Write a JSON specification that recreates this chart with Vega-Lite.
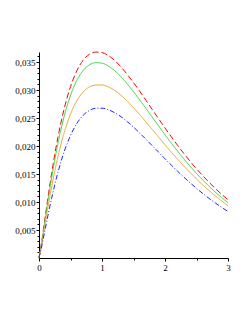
{
  "$schema": "https://vega.github.io/schema/vega-lite/v6.json",
  "width": 189,
  "height": 206,
  "autosize": "none",
  "padding": {"left": 39, "top": 52, "right": 21, "bottom": 65},
  "background": "white",
  "config": {"view": {"stroke": null}},
  "data": {"values": [
    {"x":0,"y":0,"s":"s1"},{"x":0.05,"y":0.00347,"s":"s1"},{"x":0.1,"y":0.00748,"s":"s1"},{"x":0.2,"y":0.01508,"s":"s1"},{"x":0.3,"y":0.02153,"s":"s1"},{"x":0.4,"y":0.02668,"s":"s1"},{"x":0.5,"y":0.03061,"s":"s1"},{"x":0.6,"y":0.03344,"s":"s1"},{"x":0.7,"y":0.03532,"s":"s1"},{"x":0.8,"y":0.03639,"s":"s1"},{"x":0.9,"y":0.03679,"s":"s1"},{"x":1.0,"y":0.03670,"s":"s1"},{"x":1.1,"y":0.03617,"s":"s1"},{"x":1.2,"y":0.03530,"s":"s1"},{"x":1.3,"y":0.03415,"s":"s1"},{"x":1.4,"y":0.03281,"s":"s1"},{"x":1.5,"y":0.03134,"s":"s1"},{"x":1.6,"y":0.02976,"s":"s1"},{"x":1.7,"y":0.02814,"s":"s1"},{"x":1.8,"y":0.02649,"s":"s1"},{"x":1.9,"y":0.02485,"s":"s1"},{"x":2.0,"y":0.02323,"s":"s1"},{"x":2.1,"y":0.02165,"s":"s1"},{"x":2.2,"y":0.02013,"s":"s1"},{"x":2.3,"y":0.01865,"s":"s1"},{"x":2.4,"y":0.01726,"s":"s1"},{"x":2.5,"y":0.01593,"s":"s1"},{"x":2.6,"y":0.01469,"s":"s1"},{"x":2.7,"y":0.01351,"s":"s1"},{"x":2.8,"y":0.01240,"s":"s1"},{"x":2.9,"y":0.01137,"s":"s1"},{"x":3.0,"y":0.01041,"s":"s1"},
    {"x":0,"y":0,"s":"s2"},{"x":0.05,"y":0.00329,"s":"s2"},{"x":0.1,"y":0.00709,"s":"s2"},{"x":0.2,"y":0.01430,"s":"s2"},{"x":0.3,"y":0.02042,"s":"s2"},{"x":0.4,"y":0.02531,"s":"s2"},{"x":0.5,"y":0.02903,"s":"s2"},{"x":0.6,"y":0.03172,"s":"s2"},{"x":0.7,"y":0.03349,"s":"s2"},{"x":0.8,"y":0.03451,"s":"s2"},{"x":0.9,"y":0.03489,"s":"s2"},{"x":1.0,"y":0.03480,"s":"s2"},{"x":1.1,"y":0.03430,"s":"s2"},{"x":1.2,"y":0.03348,"s":"s2"},{"x":1.3,"y":0.03239,"s":"s2"},{"x":1.4,"y":0.03112,"s":"s2"},{"x":1.5,"y":0.02972,"s":"s2"},{"x":1.6,"y":0.02822,"s":"s2"},{"x":1.7,"y":0.02669,"s":"s2"},{"x":1.8,"y":0.02512,"s":"s2"},{"x":1.9,"y":0.02357,"s":"s2"},{"x":2.0,"y":0.02203,"s":"s2"},{"x":2.1,"y":0.02053,"s":"s2"},{"x":2.2,"y":0.01908,"s":"s2"},{"x":2.3,"y":0.01769,"s":"s2"},{"x":2.4,"y":0.01637,"s":"s2"},{"x":2.5,"y":0.01511,"s":"s2"},{"x":2.6,"y":0.01393,"s":"s2"},{"x":2.7,"y":0.01281,"s":"s2"},{"x":2.8,"y":0.01176,"s":"s2"},{"x":2.9,"y":0.01078,"s":"s2"},{"x":3.0,"y":0.00987,"s":"s2"},
    {"x":0,"y":0,"s":"s3"},{"x":0.05,"y":0.00292,"s":"s3"},{"x":0.1,"y":0.00628,"s":"s3"},{"x":0.2,"y":0.01266,"s":"s3"},{"x":0.3,"y":0.01808,"s":"s3"},{"x":0.4,"y":0.02241,"s":"s3"},{"x":0.5,"y":0.02571,"s":"s3"},{"x":0.6,"y":0.02808,"s":"s3"},{"x":0.7,"y":0.02965,"s":"s3"},{"x":0.8,"y":0.03056,"s":"s3"},{"x":0.9,"y":0.03089,"s":"s3"},{"x":1.0,"y":0.03092,"s":"s3"},{"x":1.1,"y":0.03058,"s":"s3"},{"x":1.2,"y":0.02995,"s":"s3"},{"x":1.3,"y":0.02908,"s":"s3"},{"x":1.4,"y":0.02803,"s":"s3"},{"x":1.5,"y":0.02686,"s":"s3"},{"x":1.6,"y":0.02560,"s":"s3"},{"x":1.7,"y":0.02428,"s":"s3"},{"x":1.8,"y":0.02294,"s":"s3"},{"x":1.9,"y":0.02158,"s":"s3"},{"x":2.0,"y":0.02024,"s":"s3"},{"x":2.1,"y":0.01893,"s":"s3"},{"x":2.2,"y":0.01765,"s":"s3"},{"x":2.3,"y":0.01642,"s":"s3"},{"x":2.4,"y":0.01523,"s":"s3"},{"x":2.5,"y":0.01412,"s":"s3"},{"x":2.6,"y":0.01304,"s":"s3"},{"x":2.7,"y":0.01203,"s":"s3"},{"x":2.8,"y":0.01108,"s":"s3"},{"x":2.9,"y":0.01020,"s":"s3"},{"x":3.0,"y":0.00936,"s":"s3"},
    {"x":0,"y":0,"s":"s4"},{"x":0.05,"y":0.00244,"s":"s4"},{"x":0.1,"y":0.00526,"s":"s4"},{"x":0.2,"y":0.01066,"s":"s4"},{"x":0.3,"y":0.01528,"s":"s4"},{"x":0.4,"y":0.01901,"s":"s4"},{"x":0.5,"y":0.02190,"s":"s4"},{"x":0.6,"y":0.02403,"s":"s4"},{"x":0.7,"y":0.02548,"s":"s4"},{"x":0.8,"y":0.02636,"s":"s4"},{"x":0.9,"y":0.02675,"s":"s4"},{"x":1.0,"y":0.02676,"s":"s4"},{"x":1.1,"y":0.02649,"s":"s4"},{"x":1.2,"y":0.02596,"s":"s4"},{"x":1.3,"y":0.02525,"s":"s4"},{"x":1.4,"y":0.02437,"s":"s4"},{"x":1.5,"y":0.02338,"s":"s4"},{"x":1.6,"y":0.02230,"s":"s4"},{"x":1.7,"y":0.02118,"s":"s4"},{"x":1.8,"y":0.02004,"s":"s4"},{"x":1.9,"y":0.01888,"s":"s4"},{"x":2.0,"y":0.01773,"s":"s4"},{"x":2.1,"y":0.01660,"s":"s4"},{"x":2.2,"y":0.01550,"s":"s4"},{"x":2.3,"y":0.01444,"s":"s4"},{"x":2.4,"y":0.01342,"s":"s4"},{"x":2.5,"y":0.01244,"s":"s4"},{"x":2.6,"y":0.01152,"s":"s4"},{"x":2.7,"y":0.01064,"s":"s4"},{"x":2.8,"y":0.00982,"s":"s4"},{"x":2.9,"y":0.00904,"s":"s4"},{"x":3.0,"y":0.00832,"s":"s4"}
  ]},
  "mark": {"type": "line", "interpolate": "monotone", "strokeWidth": 1, "clip": false},
  "encoding": {
    "x": {
      "field": "x", "type": "quantitative",
      "scale": {"domain": [0, 3], "nice": false},
      "axis": {
        "title": null, "grid": false,
        "values": [0, 0.5, 1, 1.5, 2, 2.5, 3],
        "labelExpr": "datum.value % 1 == 0 ? format(datum.value, 'd') : ''",
        "domainColor": "#000000", "domainWidth": 1,
        "tickColor": "#000000",
        "tickSize": {"condition": {"test": "datum.value % 1 == 0", "value": 3}, "value": 2},
        "labelFont": "Liberation Serif", "labelFontSize": 9, "labelColor": "#000000",
        "labelPadding": 2, "labelFlush": false, "labelOverlap": false
      }
    },
    "y": {
      "field": "y", "type": "quantitative",
      "scale": {"domain": [0, 0.0368], "nice": false, "zero": true},
      "axis": {
        "title": null, "grid": false,
        "values": [0.001,0.002,0.003,0.004,0.005,0.006,0.007,0.008,0.009,0.010,0.011,0.012,0.013,0.014,0.015,0.016,0.017,0.018,0.019,0.020,0.021,0.022,0.023,0.024,0.025,0.026,0.027,0.028,0.029,0.030,0.031,0.032,0.033,0.034,0.035,0.036],
        "labelExpr": "round(datum.value * 1000) % 5 == 0 ? replace(format(datum.value, '.3f'), '.', ',') : ''",
        "domainColor": "#000000", "domainWidth": 1,
        "tickColor": "#000000",
        "tickSize": {"condition": {"test": "round(datum.value * 1000) % 5 == 0", "value": 3}, "value": 2},
        "labelFont": "Liberation Serif", "labelFontSize": 9, "labelColor": "#000000",
        "labelPadding": 1, "labelFlush": false, "labelOverlap": false
      }
    },
    "color": {
      "field": "s", "type": "nominal", "legend": null,
      "scale": {"domain": ["s1", "s2", "s3", "s4"], "range": ["#FF0000", "#40D040", "#E6A630", "#2222FF"]}
    },
    "strokeDash": {
      "field": "s", "type": "nominal", "legend": null,
      "scale": {"domain": ["s1", "s2", "s3", "s4"], "range": [[6, 3], [1, 0], [1, 0], [5, 2, 1, 2]]}
    }
  }
}
